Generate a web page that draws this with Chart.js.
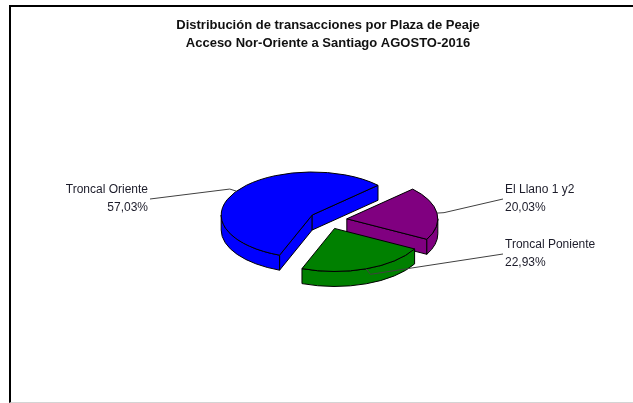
<!DOCTYPE html>
<html>
<head>
<meta charset="utf-8">
<script src="https://cdn.jsdelivr.net/npm/chart.js@4/dist/chart.umd.min.js"></script>
<style>
  html, body { margin: 0; padding: 0; background: #fff; }
  #wrap { position: relative; width: 633px; height: 403px; overflow: hidden; }
  #c { position: absolute; left: 0; top: 0; }
  #frame { position: absolute; left: 9px; top: 5px; width: 700px; height: 398px; box-sizing: border-box;
           border-top: 2px solid #000; border-left: 2px solid #000; border-bottom: 1px solid #d4d4d4; pointer-events: none; }
</style>
</head>
<body>
<div id="wrap">
  <canvas id="c" width="633" height="403"></canvas>
  <div id="frame"></div>
</div>
<script>
// ---- data ----
const categories = ['Troncal Oriente', 'El Llano 1 y2', 'Troncal Poniente'];
const shares = [57.03, 20.03, 22.93];
const shareLabels = ['57,03%', '20,03%', '22,93%'];
const sliceColors = ['#0000FF', '#800080', '#008000'];
const titleLines = ['Distribución de transacciones por Plaza de Peaje', 'Acceso Nor-Oriente a Santiago AGOSTO-2016'];

// ---- 3D look ----
const TILT = 0.473;   // vertical squash of the pie
const DEPTH = 15;     // thickness in px
const EXPLODE = 19;   // radial pull-out of each slice
const LABEL_SPOTS = [
  { x: 150, y: 199, side: 'left' },
  { x: 503, y: 199, side: 'right' },
  { x: 503, y: 254, side: 'right' }
];

function sliceGeom(arc) {
  const p = arc.getProps(['x', 'y', 'startAngle', 'endAngle', 'outerRadius'], true);
  const mid = (p.startAngle + p.endAngle) / 2;
  return {
    s: p.startAngle, e: p.endAngle, mid: mid, R: p.outerRadius,
    cx: p.x + Math.cos(mid) * EXPLODE,
    cy: p.y + Math.sin(mid) * EXPLODE * TILT,
    color: arc.options.backgroundColor
  };
}
function pt(g, t, dy) {
  return [g.cx + g.R * Math.cos(t), g.cy + g.R * TILT * Math.sin(t) + (dy || 0)];
}

const pie3d = {
  id: 'pie3d',
  beforeDatasetsDraw(chart) {
    const ctx = chart.ctx;
    const geoms = chart.getDatasetMeta(0).data.map(sliceGeom);
    ctx.save();
    ctx.lineWidth = 1;
    ctx.strokeStyle = '#000';
    ctx.lineJoin = 'round';
    // side faces
    geoms.forEach(g => {
      [[g.s, Math.cos(g.s) < 0], [g.e, Math.cos(g.e) > 0]].forEach(([t, vis]) => {
        if (!vis) return;
        const a = pt(g, t, 0);
        ctx.beginPath();
        ctx.moveTo(g.cx, g.cy);
        ctx.lineTo(a[0], a[1]);
        ctx.lineTo(a[0], a[1] + DEPTH);
        ctx.lineTo(g.cx, g.cy + DEPTH);
        ctx.closePath();
        ctx.fillStyle = g.color;
        ctx.fill();
        ctx.stroke();
      });
      for (let k = -1; k <= 2; k++) {
        const a = Math.max(g.s, 2 * Math.PI * k);
        const b = Math.min(g.e, 2 * Math.PI * k + Math.PI);
        if (b <= a) continue;
        const pb = pt(g, b, DEPTH);
        ctx.beginPath();
        ctx.ellipse(g.cx, g.cy, g.R, g.R * TILT, 0, a, b, false);
        ctx.lineTo(pb[0], pb[1]);
        ctx.ellipse(g.cx, g.cy + DEPTH, g.R, g.R * TILT, 0, b, a, true);
        ctx.closePath();
        ctx.fillStyle = g.color;
        ctx.fill();
        ctx.stroke();
      }
    });
    // top faces
    geoms.forEach(g => {
      ctx.beginPath();
      ctx.moveTo(g.cx, g.cy);
      ctx.ellipse(g.cx, g.cy, g.R, g.R * TILT, 0, g.s, g.e, false);
      ctx.closePath();
      ctx.fillStyle = g.color;
      ctx.fill();
      ctx.stroke();
    });
    // leader lines and labels
    ctx.font = '12px "Liberation Sans", Arial, sans-serif';
    ctx.textBaseline = 'middle';
    geoms.forEach((g, i) => {
      const spot = LABEL_SPOTS[i];
      const a = pt(g, g.mid, 0);
      const dx = Math.cos(g.mid), dy = Math.sin(g.mid) * TILT;
      const n = Math.hypot(dx, dy);
      const elbow = [a[0] + dx / n * 7, a[1] + dy / n * 7];
      ctx.beginPath();
      ctx.moveTo(a[0], a[1]);
      ctx.lineTo(elbow[0], elbow[1]);
      ctx.lineTo(spot.x, spot.y);
      ctx.strokeStyle = '#404040';
      ctx.stroke();
      ctx.fillStyle = '#1c1c2a';
      if (spot.side === 'left') {
        ctx.textAlign = 'right';
        ctx.fillText(categories[i], spot.x - 2, spot.y - 9);
        ctx.fillText(shareLabels[i], spot.x - 2, spot.y + 9);
      } else {
        ctx.textAlign = 'left';
        ctx.fillText(categories[i], spot.x + 2, spot.y - 9);
        ctx.fillText(shareLabels[i], spot.x + 2, spot.y + 9);
      }
    });
    // title, centred over the pie
    const tx = (chart.chartArea.left + chart.chartArea.right) / 2;
    ctx.font = 'bold 13px "Liberation Sans", Arial, sans-serif';
    ctx.textAlign = 'center';
    ctx.fillStyle = '#111';
    titleLines.forEach((line, i) => ctx.fillText(line, tx, 25 + i * 18));
    ctx.restore();
    return false;
  }
};

new Chart(document.getElementById('c'), {
  type: 'pie',
  data: {
    labels: categories,
    datasets: [{
      data: shares,
      backgroundColor: sliceColors,
      borderColor: '#000',
      borderWidth: 1
    }]
  },
  options: {
    responsive: false,
    animation: false,
    devicePixelRatio: 1,
    events: [],
    rotation: 201,
    radius: 91,
    layout: { padding: { left: 23, right: 0, top: 52, bottom: 15 } },
    plugins: {
      legend: { display: false },
      tooltip: { enabled: false },
      title: { display: false }
    }
  },
  plugins: [pie3d]
});
</script>
</body>
</html>
